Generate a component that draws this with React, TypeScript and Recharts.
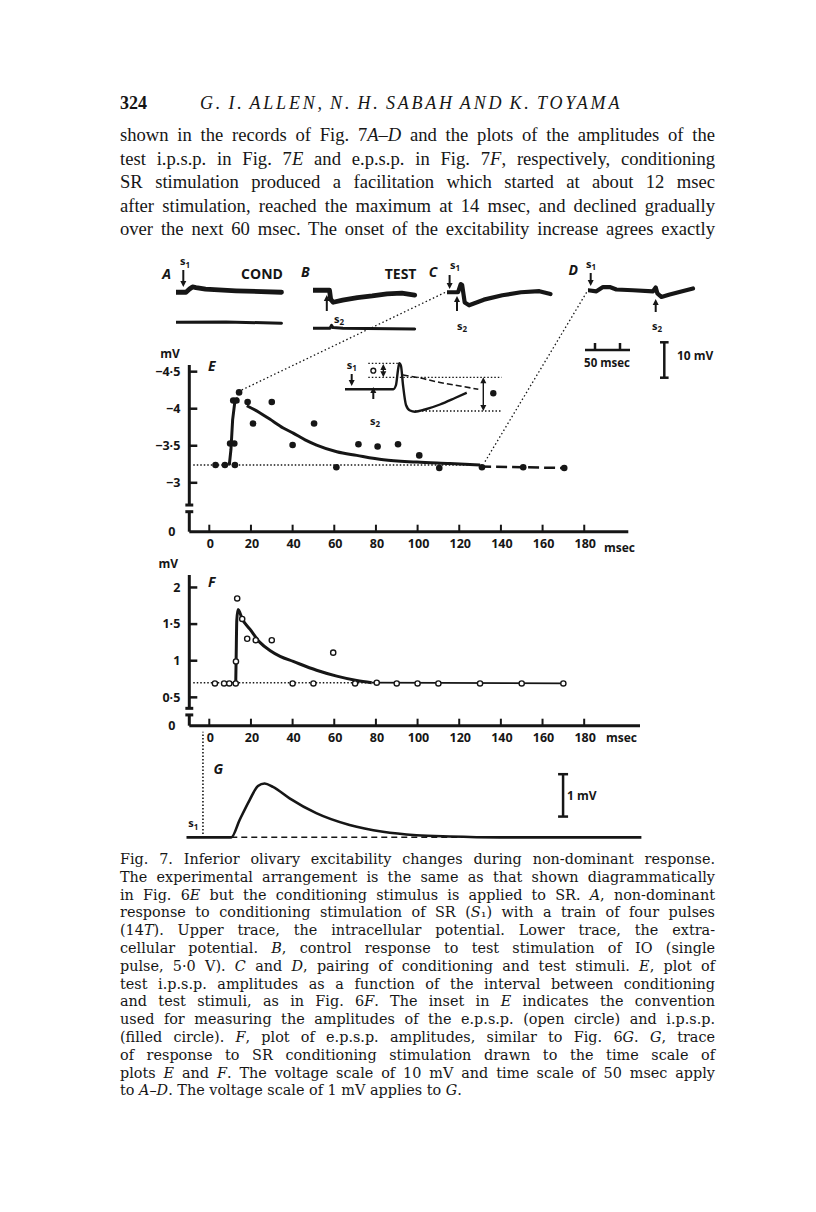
import {
  ComposedChart,
  LineChart,
  Line,
  Scatter,
  XAxis,
  YAxis,
  ReferenceLine,
} from "recharts";

const INK = "#161616";
const SANS = "'Open Sans', 'DejaVu Sans', sans-serif";
const SERIF_BODY = "'Liberation Serif', 'DejaVu Serif', serif";
const SERIF_CAPTION = "'DejaVu Serif', 'Liberation Serif', serif";

// --- Text of the page ---
const headerTitle = "G. I. ALLEN, N. H. SABAH AND K. TOYAMA";
const bodyLines = [
  "shown in the records of Fig. 7_A–D_ and the plots of the amplitudes of the",
  "test i.p.s.p. in Fig. 7_E_ and e.p.s.p. in Fig. 7_F_, respectively, conditioning",
  "SR stimulation produced a facilitation which started at about 12 msec",
  "after stimulation, reached the maximum at 14 msec, and declined gradually",
  "over the next 60 msec. The onset of the excitability increase agrees exactly",
];
const captionLines = [
  "Fig. 7.  Inferior olivary excitability changes during non-dominant response.",
  "The experimental arrangement is the same as that shown diagrammatically",
  "in Fig. 6_E_ but the conditioning stimulus is applied to SR. _A_, non-dominant",
  "response to conditioning stimulation of SR (_S_₁) with a train of four pulses",
  "(14_T_). Upper trace, the intracellular potential. Lower trace, the extra-",
  "cellular potential. _B_, control response to test stimulation of IO (single",
  "pulse, 5·0 V). _C_ and _D_, pairing of conditioning and test stimuli. _E_, plot of",
  "test i.p.s.p. amplitudes as a function of the interval between conditioning",
  "and test stimuli, as in Fig. 6_F_. The inset in _E_ indicates the convention",
  "used for measuring the amplitudes of the e.p.s.p. (open circle) and i.p.s.p.",
  "(filled circle). _F_, plot of e.p.s.p. amplitudes, similar to Fig. 6_G_. _G_, trace",
  "of response to SR conditioning stimulation drawn to the time scale of",
  "plots _E_ and _F_. The voltage scale of 10 mV and time scale of 50 msec apply",
  "to _A–D_. The voltage scale of 1 mV applies to _G_.",
];

// --- Shared time axis (msec) for E, F, G ---
const msTicks = [0, 20, 40, 60, 80, 100, 120, 140, 160, 180];

// --- E: test i.p.s.p. amplitude (mV), filled circles ---
const ipspTicks = [-4.5, -4, -3.5, -3, -2.34];
const ipspT = [3, 7.5, 12.3, 10, 12, 11.5, 13, 14.3, 18.4, 21, 30, 40, 50.3, 61, 71.6, 80.8, 90.6, 100.8, 110.4, 130.9, 150.7, 170.4];
const ipspV = [-3.24, -3.24, -3.24, -3.53, -3.53, -4.11, -4.11, -4.22, -4.09, -3.8, -4.09, -3.51, -3.8, -3.21, -3.52, -3.49, -3.52, -3.37, -3.2, -3.21, -3.21, -3.2];
const ipspRiseT = [9.6, 10.4, 11.2, 12.2, 13.2, 13.8];
const ipspRiseV = [-3.24, -3.45, -3.85, -4.08, -4.12, -4.08];
const ipspDecayT = [18, 24, 29, 35.5, 40.3, 46, 51.5, 61.2, 70.8, 83.6, 99.6, 115.5, 130];
const ipspDecayV = [-4.04, -3.95, -3.86, -3.74, -3.67, -3.58, -3.51, -3.42, -3.37, -3.31, -3.28, -3.26, -3.24];
const ipspTailT = [130, 150, 170];
const ipspTailV = [-3.22, -3.21, -3.2];
const ipspBaseT = [-7.7, 130];
const ipspBaseV = [-3.24, -3.24];

// --- F: e.p.s.p. amplitude (mV), open circles ---
const epspTicks = [0.113, 0.5, 1, 1.5, 2];
const epspT = [2.7, 7.1, 9.6, 12.7, 12.8, 13.4, 15.8, 18.2, 22.3, 30, 40, 50, 59.5, 70, 80.4, 90, 100, 110, 130, 150, 170];
const epspV = [0.69, 0.69, 0.69, 0.69, 0.99, 1.85, 1.57, 1.3, 1.28, 1.28, 0.69, 0.69, 1.11, 0.69, 0.7, 0.69, 0.69, 0.69, 0.69, 0.69, 0.69];
const epspCurveT = [12.7, 12.9, 13.2, 13.8, 15.8, 19.5, 24.3, 29.1, 34, 40.3, 51.5, 61.2, 70.8, 78];
const epspCurveV = [0.7, 1.05, 1.55, 1.7, 1.57, 1.43, 1.25, 1.14, 1.06, 0.99, 0.87, 0.79, 0.73, 0.7];
const epspTailT = [78, 170];
const epspTailV = [0.7, 0.69];
const epspBaseT = [-7.7, 78];
const epspBaseV = [0.7, 0.7];

// --- G: response to SR conditioning (mV) ---
const condT = [-10.8, 10.7, 14.7, 19.5, 23.5, 26.7, 30.7, 38.7, 51.5, 67.5, 83.5, 99.6, 115.6, 139.6, 207.6];
const condV = [0, 0, 0.41, 0.88, 1.21, 1.27, 1.19, 0.92, 0.57, 0.29, 0.13, 0.05, 0.02, 0, 0];
const condBaseT = [10.7, 140];
const condBaseV = [0, 0];

// --- A-D records (msec from trace start, mV from trace baseline) ---
const recAUpperT = [0, 20, 27, 33, 40, 59, 120, 211];
const recAUpperV = [0, 0, 0.9, 1.5, 1.3, 0.85, 0.4, 0];
const recALowerT = [0, 100, 211];
const recALowerV = [0, 0.1, -0.3];
const recBUpperT = [0, 33, 35.4, 40.6, 59.2, 88.8, 118.4, 148, 177.6, 203.4];
const recBUpperV = [0, 0, -2.6, -3.4, -2.8, -2.1, -1.6, -1.0, -0.8, -1.4];
const recBLowerT = [0, 34, 37, 40, 60, 203.4];
const recBLowerV = [0, 0, 0.8, 0.2, 0, -0.2];
const recCT = [0, 22.2, 27.4, 30.2, 35.4, 44.2, 73.8, 110.8, 147.8, 184.8, 207];
const recCV = [0, 0, 2.3, 2.1, -2.9, -3.7, -2.1, -0.85, 0, 0.3, -0.5];
const recDT = [0, 16.8, 30, 43.4, 56.8, 90, 130, 135.4, 138.8, 146.8, 163.4, 210];
const recDV = [0, -0.3, 0.9, 0.9, 0.2, 0, -0.3, 0.8, -0.9, -1.9, -1.2, 0.5];

// --- inset in E (schematic units) ---
const insetT = [5, 53.3, 56, 58, 59.3, 61, 63, 66, 70, 75, 85, 100, 115, 126.7];
const insetV = [0, 0, 4.3, 19.3, 26, 23.3, 4.3, -15.7, -21.2, -22.4, -20.2, -15.2, -8.7, -3.4];
const insetDashT = [62.7, 80, 100, 120, 138.3];
const insetDashV = [14.3, 11.3, 6.8, 3.3, 0];

const zip = (t: number[], v: number[]) => t.map((x, i) => ({ t: x, v: v[i] }));

const fmt = (v: number) =>
  (v < 0 ? "−" : "") + String(Math.abs(v)).replace(".", "·");

const yTick = (zero: number) => (props: any) => {
  const { x, y, payload } = props;
  const isZero = Math.abs(payload.value - zero) < 1e-6;
  return (
    <g>
      {!isZero && (
        <line x1={x} x2={x + 8} y1={y} y2={y} stroke={INK} strokeWidth={2.5} />
      )}
      <text
        x={isZero ? x - 14 : x - 9}
        y={y}
        dy="0.35em"
        textAnchor="end"
        fontFamily={SANS}
        fontWeight={700}
        fontSize={12.5}
        fill={INK}
      >
        {isZero ? "0" : fmt(payload.value)}
      </text>
    </g>
  );
};

const xTick = (props: any) => {
  const { x, y, payload } = props;
  return (
    <g>
      <line x1={x} x2={x} y1={y} y2={y - 7} stroke={INK} strokeWidth={2} />
      <text
        x={x + 1}
        y={y + 12}
        dy="0.35em"
        textAnchor="middle"
        fontFamily={SANS}
        fontWeight={700}
        fontSize={12.5}
        fill={INK}
      >
        {payload.value}
      </text>
    </g>
  );
};

const filledDot = (r: number) => (p: any) => (
  <circle cx={p.cx} cy={p.cy} r={r} fill={INK} />
);
const openDot = (r: number) => (p: any) => (
  <circle cx={p.cx} cy={p.cy} r={r} fill="#fff" stroke={INK} strokeWidth={1.4} />
);

// axis with a break, drawn as segments at the left edge of the domain
function axisBreak(x: number, top: number, breakA: number, breakB: number, bottom: number, capL: number, capR: number) {
  const seg = (a: any, b: any, k: string) => (
    <ReferenceLine key={k} segment={[a, b]} stroke={INK} strokeWidth={3} ifOverflow="visible" />
  );
  return [
    seg({ x, y: top }, { x, y: breakA }, "a"),
    seg({ x, y: breakB }, { x, y: bottom }, "b"),
    seg({ x: capL, y: breakA }, { x: capR, y: breakA }, "c"),
    seg({ x: capL, y: breakB }, { x: capR, y: breakB }, "d"),
  ];
}

function RichLine({ text }: { text: string }) {
  return (
    <>
      {text.split("_").map((part, i) =>
        i % 2 ? <i key={i}>{part}</i> : <span key={i}>{part}</span>,
      )}
    </>
  );
}

function Record({ x0, y0, t, v, sw }: { x0: number; y0: number; t: number[]; v: number[]; sw: number }) {
  // 0.5 px per msec, 3.54 px per mV (scale bars 50 msec / 10 mV)
  const tMax = 220;
  const vMax = 6;
  return (
    <div style={{ position: "absolute", left: x0, top: y0 - vMax * 3.54 }}>
      <LineChart width={tMax * 0.5} height={2 * vMax * 3.54} margin={{ top: 0, right: 0, bottom: 0, left: 0 }}>
        <XAxis hide type="number" dataKey="t" domain={[0, tMax]} />
        <YAxis hide type="number" domain={[-vMax, vMax]} />
        <Line
          data={zip(t, v)}
          dataKey="v"
          type="linear"
          stroke={INK}
          strokeWidth={sw}
          strokeLinejoin="round"
          strokeLinecap="round"
          dot={false}
          isAnimationActive={false}
        />
      </LineChart>
    </div>
  );
}

function PlotE() {
  return (
    <div style={{ position: "absolute", left: 120, top: 345 }}>
      <ComposedChart width={520} height={220} margin={{ top: 20, right: 11.7, bottom: 3.3, left: 0 }}>
        <XAxis
          type="number"
          dataKey="t"
          domain={[-9.6, 201.15]}
          ticks={msTicks}
          allowDataOverflow
          axisLine={{ stroke: INK, strokeWidth: 3 }}
          tickLine={false}
          tickSize={0}
          tickMargin={0}
          tick={xTick}
          height={30}
        />
        <YAxis
          type="number"
          dataKey="v"
          domain={[-4.59, -2.34]}
          reversed
          allowDataOverflow
          ticks={ipspTicks}
          axisLine={false}
          tickLine={false}
          tickSize={0}
          tickMargin={0}
          width={69.3}
          tick={yTick(-2.34)}
        />
        {axisBreak(-9.6, -4.59, -2.7, -2.61, -2.34, -11.5, -7.7)}
        <Line data={zip(ipspBaseT, ipspBaseV)} dataKey="v" stroke={INK} strokeWidth={1.5} strokeDasharray="1.5 2" dot={false} isAnimationActive={false} />
        <Line data={zip(ipspTailT, ipspTailV)} dataKey="v" stroke={INK} strokeWidth={2.5} strokeDasharray="11 5" dot={false} isAnimationActive={false} />
        <Line data={zip(ipspRiseT, ipspRiseV)} dataKey="v" type="linear" stroke={INK} strokeWidth={3} dot={false} isAnimationActive={false} />
        <Line data={zip(ipspDecayT, ipspDecayV)} dataKey="v" type="monotone" stroke={INK} strokeWidth={3} dot={false} isAnimationActive={false} />
        <Scatter data={zip(ipspT, ipspV)} dataKey="v" shape={filledDot(3.3)} isAnimationActive={false} />
      </ComposedChart>
    </div>
  );
}

function PlotF() {
  return (
    <div style={{ position: "absolute", left: 120, top: 555 }}>
      <ComposedChart width={530} height={210} margin={{ top: 20, right: 10, bottom: 9.3, left: 0 }}>
        <XAxis
          type="number"
          dataKey="t"
          domain={[-9.6, 206.8]}
          ticks={msTicks}
          allowDataOverflow
          axisLine={{ stroke: INK, strokeWidth: 3 }}
          tickLine={false}
          tickSize={0}
          tickMargin={0}
          tick={xTick}
          height={30}
        />
        <YAxis
          type="number"
          dataKey="v"
          domain={[0.113, 2.17]}
          allowDataOverflow
          ticks={epspTicks}
          axisLine={false}
          tickLine={false}
          tickSize={0}
          tickMargin={0}
          width={69.3}
          tick={yTick(0.113)}
        />
        {axisBreak(-9.6, 2.17, 0.35, 0.26, 0.113, -11.5, -7.7)}
        <Line data={zip(epspBaseT, epspBaseV)} dataKey="v" stroke={INK} strokeWidth={1.5} strokeDasharray="1.5 2" dot={false} isAnimationActive={false} />
        <Line data={zip(epspTailT, epspTailV)} dataKey="v" stroke={INK} strokeWidth={1.8} dot={false} isAnimationActive={false} />
        <Line data={zip(epspCurveT, epspCurveV)} dataKey="v" type="monotone" stroke={INK} strokeWidth={3} dot={false} isAnimationActive={false} />
        <Scatter data={zip(epspT, epspV)} dataKey="v" shape={openDot(2.6)} isAnimationActive={false} />
      </ComposedChart>
    </div>
  );
}

function PlotG() {
  return (
    <div style={{ position: "absolute", left: 184.3, top: 728 }}>
      <ComposedChart width={462.4} height={114} margin={{ top: 0, right: 0, bottom: 0, left: 0 }}>
        <XAxis hide type="number" dataKey="t" domain={[-12, 210]} allowDataOverflow />
        <YAxis hide type="number" dataKey="v" domain={[-0.11, 2.58]} allowDataOverflow />
        <ReferenceLine segment={[{ x: -2.9, y: 0.08 }, { x: -2.9, y: 2.49 }]} stroke={INK} strokeWidth={1.6} strokeDasharray="1.5 2" ifOverflow="visible" />
        <ReferenceLine segment={[{ x: 170, y: 0.49 }, { x: 170, y: 1.49 }]} stroke={INK} strokeWidth={2.5} ifOverflow="visible" />
        <ReferenceLine segment={[{ x: 167.6, y: 0.49 }, { x: 172.4, y: 0.49 }]} stroke={INK} strokeWidth={2.5} ifOverflow="visible" />
        <ReferenceLine segment={[{ x: 167.6, y: 1.49 }, { x: 172.4, y: 1.49 }]} stroke={INK} strokeWidth={2.5} ifOverflow="visible" />
        <Line data={zip(condBaseT, condBaseV)} dataKey="v" stroke={INK} strokeWidth={1.5} strokeDasharray="6 4" dot={false} isAnimationActive={false} />
        <Line data={zip(condT, condV)} dataKey="v" type="monotone" stroke={INK} strokeWidth={2.6} dot={false} isAnimationActive={false} />
      </ComposedChart>
    </div>
  );
}

function Inset() {
  const guide = (a: any, b: any) => (
    <ReferenceLine segment={[a, b]} stroke={INK} strokeWidth={1.3} strokeDasharray="1.5 2" ifOverflow="visible" />
  );
  return (
    <div style={{ position: "absolute", left: 340, top: 355 }}>
      <ComposedChart width={170} height={70} margin={{ top: 0, right: 0, bottom: 0, left: 0 }}>
        <XAxis hide type="number" dataKey="t" domain={[0, 170]} />
        <YAxis hide type="number" dataKey="v" domain={[-35.7, 34.3]} />
        {guide({ x: 28.3, y: 26 }, { x: 58.3, y: 26 })}
        {guide({ x: 28.3, y: 12 }, { x: 161.7, y: 12 })}
        {guide({ x: 75, y: -21.7 }, { x: 161.7, y: -21.7 })}
        <Line data={zip(insetDashT, insetDashV)} dataKey="v" type="monotone" stroke={INK} strokeWidth={1.6} strokeDasharray="6 3" dot={false} isAnimationActive={false} />
        <Line data={zip(insetT, insetV)} dataKey="v" type="monotone" stroke={INK} strokeWidth={2.4} dot={false} isAnimationActive={false} />
        <Scatter data={[{ t: 33.3, v: 18.6 }]} dataKey="v" shape={openDot(2.4)} isAnimationActive={false} />
        <Scatter data={[{ t: 153.3, v: -4 }]} dataKey="v" shape={filledDot(3.2)} isAnimationActive={false} />
      </ComposedChart>
    </div>
  );
}

function Arrow({ x, from, to, w = 2 }: { x: number; from: number; to: number; w?: number }) {
  const d = to > from ? 1 : -1;
  return (
    <g>
      <line x1={x} x2={x} y1={from} y2={to - d * 4} stroke={INK} strokeWidth={w} />
      <polygon points={`${x - 3},${to - d * 6} ${x + 3},${to - d * 6} ${x},${to}`} fill={INK} />
    </g>
  );
}

function SLabel({ x, y, n }: { x: number; y: number; n: number }) {
  return (
    <text x={x} y={y} textAnchor="middle" dominantBaseline="central" fontFamily={SANS} fontWeight={700} fontSize={11} fill={INK}>
      s<tspan fontSize={8} dy={3}>{n}</tspan>
    </text>
  );
}

function Label({ x, y, children, size = 13, italic = false, anchor = "middle" }: any) {
  return (
    <text
      x={x}
      y={y}
      textAnchor={anchor}
      dominantBaseline="central"
      fontFamily={SANS}
      fontWeight={700}
      fontStyle={italic ? "italic" : "normal"}
      fontSize={size}
      fill={INK}
    >
      {children}
    </text>
  );
}

function Overlay() {
  return (
    <svg width={816} height={1212} style={{ position: "absolute", left: 0, top: 0, pointerEvents: "none" }}>
      {/* record labels */}
      <Label x={166.6} y={273.5} size={14} italic>A</Label>
      <Label x={262} y={273.5} size={14}>COND</Label>
      <Label x={305.4} y={271.6} size={14} italic>B</Label>
      <Label x={400.6} y={273.5} size={14}>TEST</Label>
      <Label x={433} y={271.6} size={14} italic>C</Label>
      <Label x={573.3} y={269} size={14} italic>D</Label>
      <SLabel x={185} y={260.5} n={1} />
      <Arrow x={183.3} from={270} to={287} />
      <Arrow x={326.8} from={311} to={295} />
      <SLabel x={339} y={318} n={2} />
      <SLabel x={455} y={264} n={1} />
      <Arrow x={449.6} from={275} to={289} />
      <Arrow x={457} from={311} to={296} />
      <SLabel x={462} y={325} n={2} />
      <SLabel x={591} y={263} n={1} />
      <Arrow x={590.7} from={273} to={286} />
      <Arrow x={655.7} from={312} to={299} />
      <SLabel x={657} y={325} n={2} />
      {/* scale bars for A-D */}
      <line x1={585} x2={630} y1={350} y2={350} stroke={INK} strokeWidth={2.5} />
      <line x1={595} x2={595} y1={343} y2={350} stroke={INK} strokeWidth={2.5} />
      <line x1={620} x2={620} y1={343} y2={350} stroke={INK} strokeWidth={2.5} />
      <Label x={607} y={362} size={11.5}>50 msec</Label>
      <line x1={664.3} x2={664.3} y1={342.3} y2={377.7} stroke={INK} strokeWidth={2.5} />
      <line x1={660} x2={668.6} y1={342.3} y2={342.3} stroke={INK} strokeWidth={2.5} />
      <line x1={660} x2={668.6} y1={377.7} y2={377.7} stroke={INK} strokeWidth={2.5} />
      <Label x={677} y={355} size={12} anchor="start">10 mV</Label>
      {/* connectors from E to C and D */}
      <line x1={241.7} y1={390} x2={446} y2={292} stroke={INK} strokeWidth={1.3} strokeDasharray="1.5 2.5" />
      <line x1={485} y1={461.7} x2={588} y2={290} stroke={INK} strokeWidth={1.3} strokeDasharray="1.5 2.5" />
      {/* inset annotations */}
      <SLabel x={351.7} y={364} n={1} />
      <Arrow x={351.7} from={374} to={386} />
      <Arrow x={373.3} from={399} to={387} />
      <SLabel x={375} y={420} n={2} />
      <Arrow x={383.3} from={371} to={364} w={1.4} />
      <Arrow x={383.3} from={371} to={377.3} w={1.4} />
      <Arrow x={483.3} from={394} to={377.3} w={1.4} />
      <Arrow x={483.3} from={394} to={411} w={1.4} />
      {/* E, F, G labels */}
      <Label x={170} y={353.3} size={12}>mV</Label>
      <Label x={211.7} y={365} size={14} italic>E</Label>
      <Label x={604} y={547.3} size={12} anchor="start">msec</Label>
      <Label x={168.3} y={563.3} size={12}>mV</Label>
      <Label x={211.7} y={581.7} size={14} italic>F</Label>
      <Label x={606} y={737.7} size={12} anchor="start">msec</Label>
      <Label x={218.3} y={768.3} size={14} italic>G</Label>
      <SLabel x={193.3} y={822.7} n={1} />
      <Label x={567} y={795} size={12} anchor="start">1 mV</Label>
    </svg>
  );
}

export default function App() {
  const lineBox = (top: number, h: number): React.CSSProperties => ({
    position: "absolute",
    left: 120,
    width: 595,
    top,
    height: h,
    lineHeight: `${h}px`,
    textAlign: "justify",
    textAlignLast: "justify",
    color: INK,
  });
  return (
    <div style={{ position: "absolute", left: 0, top: 0, width: 816, height: 1212, background: "#fff", overflow: "hidden" }}>
      <div style={{ position: "absolute", left: 120, top: 91, fontFamily: SERIF_BODY, fontSize: 18, fontWeight: 700, color: INK, lineHeight: "24px" }}>
        324
      </div>
      <div style={{ position: "absolute", left: 200, top: 91, fontFamily: SERIF_BODY, fontSize: 18, fontStyle: "italic", letterSpacing: 2.8, wordSpacing: -2, color: INK, lineHeight: "24px", whiteSpace: "nowrap" }}>
        {headerTitle}
      </div>
      {bodyLines.map((l, i) => (
        <div key={i} style={{ ...lineBox(123 + i * 23.5, 24), fontFamily: SERIF_BODY, fontSize: 18.6 }}>
          <RichLine text={l} />
        </div>
      ))}
      {captionLines.map((l, i) => (
        <div
          key={i}
          style={{
            ...lineBox(850 + i * 17.8, 18),
            fontFamily: SERIF_CAPTION,
            fontSize: 14.4,
            textAlignLast: i === captionLines.length - 1 ? "left" : "justify",
          }}
        >
          <RichLine text={l} />
        </div>
      ))}
      <Record x0={175.9} y0={292} t={recAUpperT} v={recAUpperV} sw={4.8} />
      <Record x0={175.9} y0={322.7} t={recALowerT} v={recALowerV} sw={3} />
      <Record x0={312.8} y0={290.1} t={recBUpperT} v={recBUpperV} sw={4.8} />
      <Record x0={312.8} y0={328.3} t={recBLowerT} v={recBLowerV} sw={3} />
      <Record x0={446.5} y0={292} t={recCT} v={recCV} sw={4.2} />
      <Record x0={588.3} y0={290} t={recDT} v={recDV} sw={4.2} />
      <PlotE />
      <Inset />
      <PlotF />
      <PlotG />
      <Overlay />
    </div>
  );
}
